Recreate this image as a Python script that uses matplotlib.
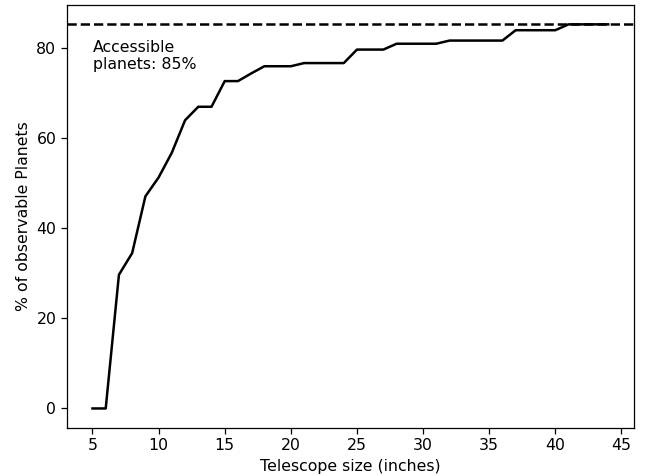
import matplotlib
matplotlib.use("Agg")
import matplotlib.pyplot as plt

sizes = [5, 6, 7, 8, 9, 10, 11, 12, 13, 14, 15, 16, 17, 18, 19, 20, 21, 22, 23, 24,
         25, 26, 27, 28, 29, 30, 31, 32, 33, 34, 35, 36, 37, 38, 39, 40, 41, 42, 43, 44]
pct = [0.0, 0.0, 29.7, 34.5, 47.1, 51.3, 56.8, 64.0, 67.0, 67.0, 72.7, 72.7, 74.4, 76.0,
       76.0, 76.0, 76.7, 76.7, 76.7, 76.7, 79.7, 79.7, 79.7, 81.0, 81.0, 81.0, 81.0, 81.7,
       81.7, 81.7, 81.7, 81.7, 84.0, 84.0, 84.0, 84.0, 85.3, 85.3, 85.3, 85.3]
accessible = 85.3
annot = "Accessible\nplanets: 85%"
xticks = [5, 10, 15, 20, 25, 30, 35, 40, 45]
yticks = [0, 20, 40, 60, 80]

fs = 11.3
fig = plt.figure(figsize=(6.52, 4.76), dpi=100)
ax = fig.add_axes([0.1023, 0.1015, 0.8701, 0.888])
ax.plot(sizes, pct, color="black", lw=1.8)
ax.axhline(accessible, color="black", lw=1.8, ls="--")
ax.set_xticks(xticks)
ax.set_yticks(yticks)
ax.set_xlim(3.05, 45.95)
ax.set_ylim(-4.27, 89.6)
ax.tick_params(labelsize=fs, length=4, width=0.9)
for s in ax.spines.values():
    s.set_linewidth(0.9)
ax.text(5.05, 81.9, annot, fontsize=fs, va="top", ha="left")
ax.set_xlabel("Telescope size (inches)", fontsize=fs)
ax.set_ylabel("% of observable Planets", fontsize=fs)
fig.savefig("out.png", dpi=100)
